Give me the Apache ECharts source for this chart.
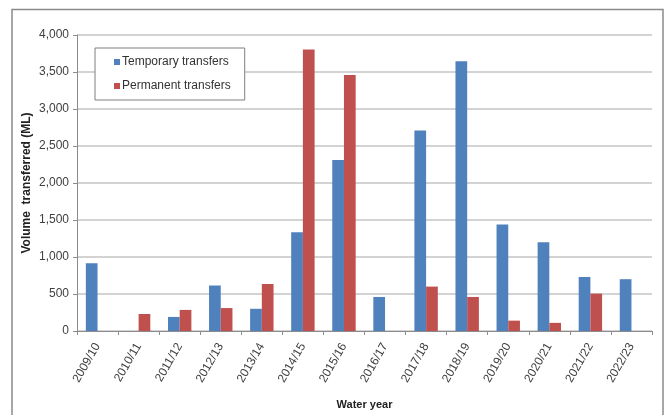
<!DOCTYPE html>
<html>
<head>
<meta charset="utf-8">
<title>Water transfers by year</title>
<script src="https://cdn.jsdelivr.net/npm/echarts@6/dist/echarts.min.js"></script>
<style>
  html, body { margin: 0; padding: 0; background: #ffffff; }
  #chart { width: 670px; height: 415px; }
</style>
</head>
<body>
<div id="chart"></div>
<script>
// Water years on the category axis
const waterYears = ['2009/10', '2010/11', '2011/12', '2012/13', '2013/14', '2014/15', '2015/16',
                    '2016/17', '2017/18', '2018/19', '2019/20', '2020/21', '2021/22', '2022/23'];

// Volumes transferred (ML)
const temporaryTransfers = [915, 0, 190, 615, 300, 1335, 2310, 460, 2710, 3645, 1440, 1200, 730, 700];
const permanentTransfers = [0, 230, 285, 310, 635, 3805, 3460, 0, 600, 460, 140, 110, 505, 0];

// Value axis ticks
const yMin = 0;
const yMax = 4000;
const yStep = 500;

const fontFamily = '"Liberation Sans", Arial, sans-serif';

const chart = echarts.init(document.getElementById('chart'), null, { renderer: 'canvas' });

chart.setOption({
  animation: false,
  backgroundColor: '#ffffff',
  textStyle: { fontFamily: fontFamily },
  graphic: [
    {
      type: 'rect',
      shape: { x: 12, y: 9.5, width: 651, height: 420 },
      style: { fill: 'none', stroke: '#8a8a8a', lineWidth: 1.5 },
      silent: true,
      z: -1
    }
  ],
  grid: { left: 77, right: 18, top: 35, bottom: 83 },
  legend: {
    orient: 'vertical',
    left: 95,
    top: 48,
    padding: [7, 14, 7, 19],
    itemGap: 10,
    itemWidth: 6,
    itemHeight: 6,
    icon: 'rect',
    borderColor: '#7f7f7f',
    borderWidth: 1,
    backgroundColor: '#ffffff',
    textStyle: {
      fontFamily: fontFamily,
      fontSize: 12,
      lineHeight: 14,
      color: '#333333',
      padding: [0, 0, 0, -3]
    },
    data: ['Temporary transfers', 'Permanent transfers']
  },
  xAxis: {
    type: 'category',
    data: waterYears,
    name: 'Water year',
    nameLocation: 'middle',
    nameGap: 68,
    nameMoveOverlap: false,
    nameTextStyle: { fontFamily: fontFamily, fontSize: 11, fontWeight: 'bold', color: '#222222' },
    axisLine: { lineStyle: { color: '#8c8c8c', width: 1 } },
    axisTick: { show: true, length: 4, lineStyle: { color: '#8c8c8c' } },
    axisLabel: {
      rotate: 60,
      margin: 13,
      interval: 0,
      fontFamily: fontFamily,
      fontSize: 12,
      color: '#404040'
    },
    splitLine: { show: false }
  },
  yAxis: {
    type: 'value',
    min: yMin,
    max: yMax,
    interval: yStep,
    name: 'Volume  transferred (ML)',
    nameLocation: 'middle',
    nameGap: 44,
    nameMoveOverlap: false,
    nameTextStyle: { fontFamily: fontFamily, fontSize: 12, fontWeight: 'bold', color: '#222222' },
    axisLine: { show: true, lineStyle: { color: '#8c8c8c', width: 1 } },
    axisTick: { show: true, length: 4, lineStyle: { color: '#8c8c8c' } },
    axisLabel: {
      margin: 8,
      fontFamily: fontFamily,
      fontSize: 12,
      color: '#404040',
      formatter: function (v) { return v.toLocaleString('en-US'); }
    },
    splitLine: { show: true, lineStyle: { color: '#c4c4c4', width: 1.5 } }
  },
  series: [
    {
      name: 'Temporary transfers',
      type: 'bar',
      data: temporaryTransfers,
      barWidth: '28.5%',
      barGap: '0%',
      itemStyle: { color: '#4F81BD' }
    },
    {
      name: 'Permanent transfers',
      type: 'bar',
      data: permanentTransfers,
      barWidth: '28.5%',
      barGap: '0%',
      itemStyle: { color: '#C0504D' }
    }
  ]
});
</script>
</body>
</html>
